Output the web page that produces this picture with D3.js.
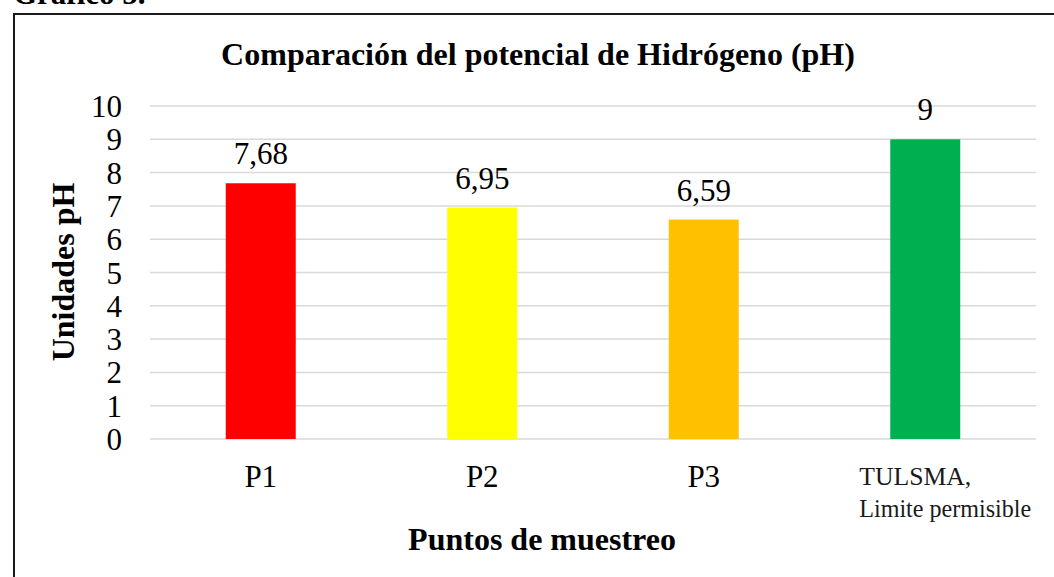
<!DOCTYPE html>
<html>
<head>
<meta charset="utf-8">
<script src="https://cdn.jsdelivr.net/npm/d3@7"></script>
<style>
  body { margin: 0; background: #fff; }
  svg { display: block; }
  text { font-family: "Liberation Serif", "Times New Roman", serif; }
</style>
</head>
<body>
<script>
var categories = ["P1", "P2", "P3", "TULSMA"];
var values = [7.68, 6.95, 6.59, 9];
var valueLabels = ["7,68", "6,95", "6,59", "9"];
var barColors = ["#ff0000", "#ffff00", "#ffc000", "#00b050"];
var yTicks = [0, 1, 2, 3, 4, 5, 6, 7, 8, 9, 10];

var width = 1054,
    height = 577;

var plot = { left: 150, right: 1036, top: 106, bottom: 439 };

var svg = d3.select("body").append("svg")
    .attr("width", width)
    .attr("height", height);

// chart frame (only top and left edges are visible in the window)
svg.append("path")
    .attr("d", "M14,600 L14,14 L1060,14")
    .attr("fill", "none")
    .attr("stroke", "#1a1a1a")
    .attr("stroke-width", 2);

// caption, cut off at the top like in the source page
svg.append("text")
    .attr("x", 13)
    .attr("y", 4)
    .attr("font-size", "31px")
    .attr("font-weight", "bold")
    .text("Gráfico 5.");

var x = d3.scaleBand()
    .domain(categories)
    .range([plot.left, plot.right])
    .paddingInner(0.684)
    .paddingOuter(0.342);

var y = d3.scaleLinear()
    .domain([0, 10])
    .range([plot.bottom, plot.top]);

// gridlines
svg.append("g")
    .selectAll("line")
    .data(yTicks)
    .enter().append("line")
    .attr("x1", plot.left)
    .attr("x2", plot.right)
    .attr("y1", function(d) { return y(d); })
    .attr("y2", function(d) { return y(d); })
    .attr("stroke", "#d9d9d9")
    .attr("stroke-width", 1.5);

// y axis tick labels
var yAxis = d3.axisLeft(y)
    .tickValues(yTicks)
    .tickSize(0)
    .tickPadding(0)
    .tickFormat(d3.format("d"));

var yg = svg.append("g")
    .attr("transform", "translate(122,0)")
    .call(yAxis);
yg.select(".domain").remove();
yg.selectAll("text")
    .attr("font-family", "Liberation Serif, Times New Roman, serif")
    .attr("font-size", "31px")
    .attr("fill", "#000")
    .attr("dy", "0.34em");

// bars
svg.selectAll("rect.bar")
    .data(values)
    .enter().append("rect")
    .attr("class", "bar")
    .attr("x", function(d, i) { return x(categories[i]); })
    .attr("y", function(d) { return y(d); })
    .attr("width", x.bandwidth())
    .attr("height", function(d) { return y(0) - y(d); })
    .attr("fill", function(d, i) { return barColors[i]; });

// value labels
svg.selectAll("text.val")
    .data(values)
    .enter().append("text")
    .attr("class", "val")
    .attr("x", function(d, i) { return x(categories[i]) + x.bandwidth() / 2; })
    .attr("y", function(d) { return y(d) - 19; })
    .attr("text-anchor", "middle")
    .attr("font-size", "31px")
    .text(function(d, i) { return valueLabels[i]; });

// x category labels
svg.selectAll("text.cat")
    .data(categories.slice(0, 3))
    .enter().append("text")
    .attr("class", "cat")
    .attr("x", function(d) { return x(d) + x.bandwidth() / 2; })
    .attr("y", 487)
    .attr("text-anchor", "middle")
    .attr("font-size", "31px")
    .text(function(d) { return d; });

// last label is two lines, smaller
var lastX = x("TULSMA") + x.bandwidth() / 2 - 66;
svg.append("text")
    .attr("x", lastX)
    .attr("y", 485)
    .attr("font-size", "25px")
    .attr("fill", "#1a1a1a")
    .attr("textLength", 112)
    .attr("lengthAdjust", "spacingAndGlyphs")
    .text("TULSMA,");
svg.append("text")
    .attr("x", lastX)
    .attr("y", 517)
    .attr("font-size", "25px")
    .attr("fill", "#1a1a1a")
    .attr("textLength", 172)
    .attr("lengthAdjust", "spacingAndGlyphs")
    .text("Limite permisible");

// title
svg.append("text")
    .attr("x", 538)
    .attr("y", 65)
    .attr("text-anchor", "middle")
    .attr("font-size", "32px")
    .attr("font-weight", "bold")
    .text("Comparación del potencial de Hidrógeno (pH)");

// axis titles
svg.append("text")
    .attr("transform", "translate(74,272) rotate(-90)")
    .attr("text-anchor", "middle")
    .attr("font-size", "32px")
    .attr("font-weight", "bold")
    .text("Unidades pH");

svg.append("text")
    .attr("x", 542)
    .attr("y", 550)
    .attr("text-anchor", "middle")
    .attr("font-size", "32px")
    .attr("font-weight", "bold")
    .text("Puntos de muestreo");
</script>
</body>
</html>
